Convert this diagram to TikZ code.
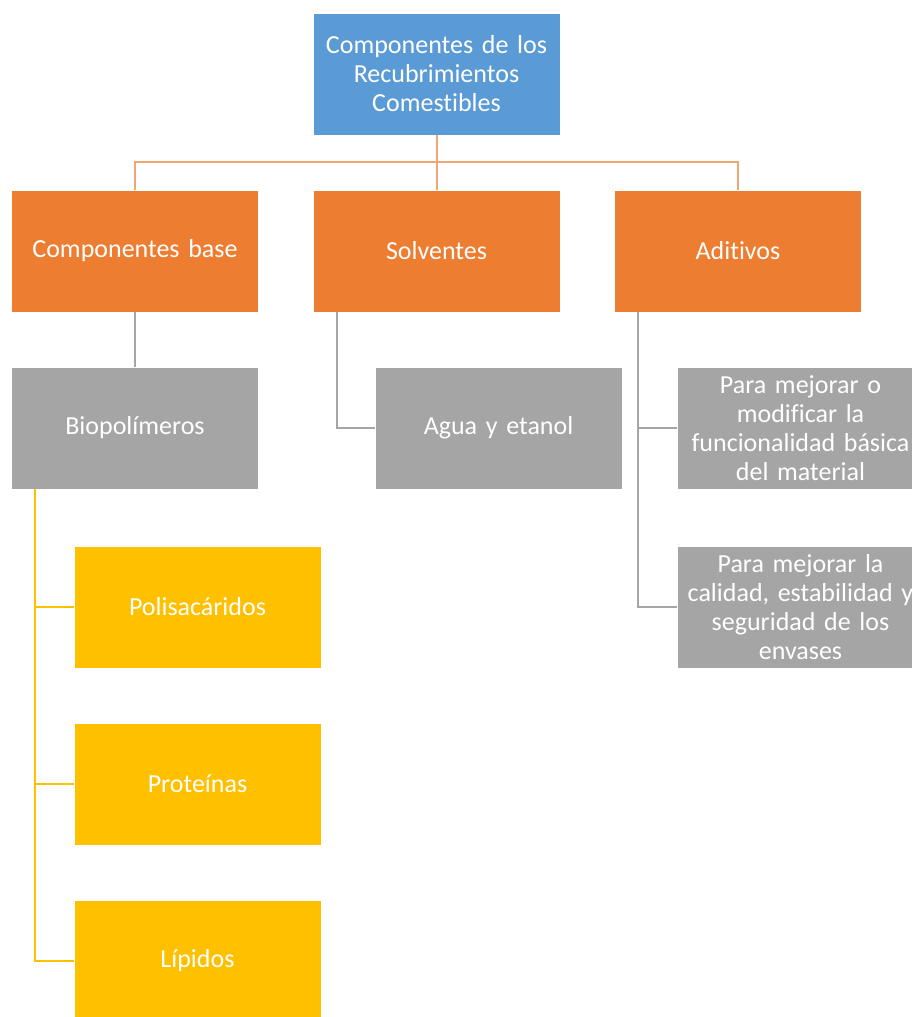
\documentclass[tikz,border=0pt]{standalone}
\usepackage{fontspec}
\setmainfont{Carlito}[Ligatures=NoCommon]
\definecolor{topblue}{HTML}{5B9BD5}
\definecolor{levorange}{HTML}{ED7D31}
\definecolor{linkorange}{HTML}{F2A672}
\definecolor{midgray}{HTML}{A5A5A5}
\definecolor{leafgold}{HTML}{FFC000}
\tikzset{
  card/.style={draw=white, line width=0.6pt, minimum width=247pt, minimum height=122pt,
    inner sep=0pt, text=white, align=center, text width=245pt,
    font=\fontsize{26}{29}\selectfont},
  toplevel/.style={card, fill=topblue},
  branch/.style={card, fill=levorange},
  detail/.style={card, fill=midgray},
  leaf/.style={card, fill=leafgold},
  olink/.style={draw=linkorange, line width=2pt},
  glink/.style={draw=midgray, line width=1.8pt},
  ylink/.style={draw=leafgold, line width=1.8pt}
}
\begin{document}
\begin{tikzpicture}[x=1pt, y=-1pt]
\useasboundingbox (0,0) rectangle (912,1017);
\clip (0,0) rectangle (912,1017);

% root
\node[toplevel] (root) at (436.5,74) {Componentes de los\\Recubrimientos\\Comestibles};

% second level
\node[branch] (base) at (135,251) {Componentes base};
\node[branch] (solv) at (436.5,251) {Solventes};
\node[branch] (adit) at (738,251) {Aditivos};

% third level
\node[detail] (bio) at (135,428) {Biopolímeros};
\node[detail] (agua) at (498.5,428) {Agua y etanol};
\node[detail] (func) at (800.5,428) {Para mejorar o\\modificar la\\funcionalidad básica\\del material};
\node[detail] (calid) at (800.5,607) {Para mejorar la\\calidad, estabilidad y\\seguridad de los\\envases};

% biopolymer families
\node[leaf] (poli) at (197.5,607) {Polisacáridos};
\node[leaf] (prot) at (197.5,784) {Proteínas};
\node[leaf] (lip) at (197.5,961) {Lípidos};

% root to second level
\coordinate (bus) at (436.5,162);
\draw[olink] (root.south) -- (bus);
\draw[olink] (bus) -| (base.north);
\draw[olink] (bus) -- (solv.north);
\draw[olink] (bus) -| (adit.north);

% second to third level
\draw[glink] (base.south) -- (bio.north);
\draw[glink] ([xshift=24pt]solv.south west) |- (agua.west);
\draw[glink] ([xshift=24pt]adit.south west) |- (func.west);
\draw[glink] ([xshift=24pt]adit.south west) |- (calid.west);

% biopolymers to families
\draw[ylink] ([xshift=24pt]bio.south west) |- (poli.west);
\draw[ylink] ([xshift=24pt]bio.south west) |- (prot.west);
\draw[ylink] ([xshift=24pt]bio.south west) |- (lip.west);
\end{tikzpicture}
\end{document}
